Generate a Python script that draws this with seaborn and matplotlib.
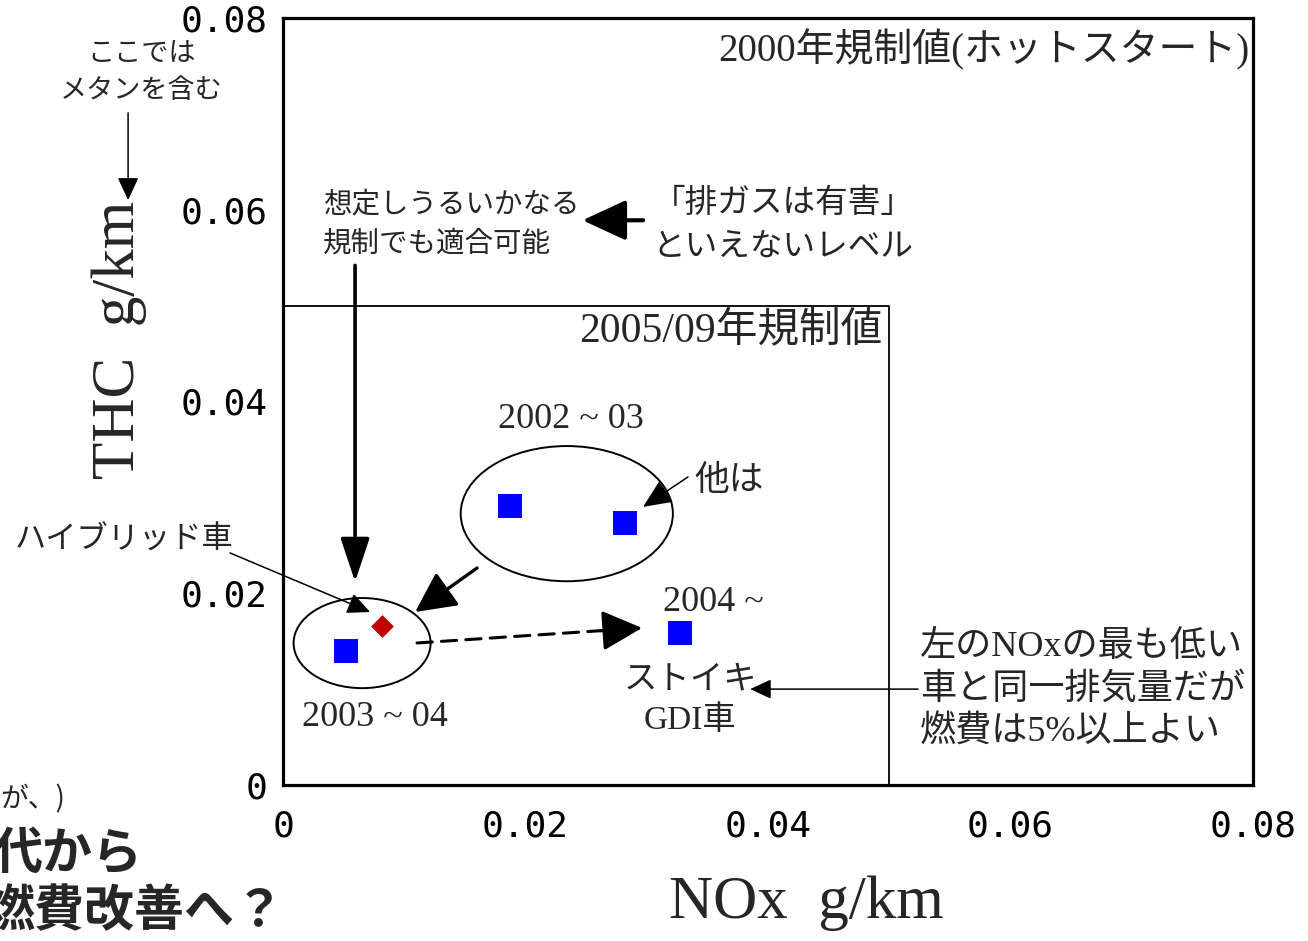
import matplotlib
matplotlib.use("Agg")
import matplotlib.pyplot as plt
from matplotlib.patches import Ellipse
import pandas as pd
import seaborn as sns

# ---------------- data ----------------
nox_gasoline = [0.0052, 0.0187, 0.0282, 0.0327]
thc_gasoline = [0.0140, 0.0291, 0.0273, 0.0159]
nox_hybrid = [0.0082]
thc_hybrid = [0.0166]

tick_values = [0, 0.02, 0.04, 0.06, 0.08]
tick_labels = ["0", "0.02", "0.04", "0.06", "0.08"]
minor_ticks = [0.01, 0.03, 0.05, 0.07]

reg2000_limit = 0.08   # 2000 regulation (hot start) = whole frame
reg2005_limit = 0.05   # 2005/09 regulation box

# ---------------- style ----------------
sns.set_theme(style="white")
CJK = ["Noto Sans CJK JP", "DejaVu Sans"]
MIXED = ["Liberation Serif", "Noto Sans CJK JP"]
plt.rcParams["font.family"] = CJK

fig = plt.figure(figsize=(13.08, 9.41), dpi=100)
ax = fig.add_axes([0.2164, 0.1658, 0.7416, 0.8151])

df_gas = pd.DataFrame({"NOx": nox_gasoline, "THC": thc_gasoline})
df_hyb = pd.DataFrame({"NOx": nox_hybrid, "THC": thc_hybrid})
sns.scatterplot(data=df_gas, x="NOx", y="THC", marker="s", s=300,
                color="#0000FF", linewidth=0, ax=ax, zorder=5)
sns.scatterplot(data=df_hyb, x="NOx", y="THC", marker="D", s=135,
                color="#C00000", linewidth=0, ax=ax, zorder=5)

ax.set_xlim(0, reg2000_limit)
ax.set_ylim(0, reg2000_limit)
ax.set_xticks(tick_values)
ax.set_xticklabels(tick_labels, family="DejaVu Sans Mono", fontsize=26)
ax.set_yticks(tick_values)
ax.set_yticklabels(tick_labels, family="DejaVu Sans Mono", fontsize=26)
ax.set_xticks(minor_ticks, minor=True)
ax.set_yticks(minor_ticks, minor=True)
ax.tick_params(which="major", direction="in", length=12, width=1,
               color="#444444", labelcolor="black")
ax.tick_params(which="minor", direction="in", length=8, width=1,
               color="#777777")
ax.tick_params(axis="x", pad=18)
ax.tick_params(axis="y", pad=11)
for sp in ax.spines.values():
    sp.set_linewidth(2.3)
    sp.set_color("black")

ax.set_xlabel("NOx  g/km", family="Liberation Serif", fontsize=44)
ax.xaxis.set_label_coords(0.539, -0.118)
ax.set_ylabel("THC  g/km", family="Liberation Serif", fontsize=44)
ax.yaxis.set_label_coords(-0.14, 0.58)

# 2005/09 regulation box
ax.plot([0, reg2005_limit, reg2005_limit], [reg2005_limit, reg2005_limit, 0],
        color="black", lw=1.3, zorder=2)

# ellipses grouping years
ax.add_patch(Ellipse((0.0234, 0.0283), 0.0175, 0.0141, fill=False,
                     ec="black", lw=1.4))
ax.add_patch(Ellipse((0.00652, 0.0148), 0.0113, 0.0094, fill=False,
                     ec="black", lw=1.4))


def arrow(tail, tip, lw, hl, hw, ls="-", style="-|>"):
    if style == "-|>":
        style = f"-|>,head_length={hl},head_width={hw}"
    ax.annotate("", xy=tip, xytext=tail, annotation_clip=False,
                arrowprops=dict(arrowstyle=style, lw=lw, color="black",
                                linestyle=ls, shrinkA=0, shrinkB=0,
                                mutation_scale=10))


arrow((0.00594, 0.0542), (0.00594, 0.0212), 2.6, 2.7, 0.9)
arrow((0.0297, 0.0589), (0.0247, 0.0589), 3.0, 2.7, 1.25)
arrow((0.0160, 0.02263), (0.01089, 0.01804), 2.4, 2.5, 1.25)
arrow((-0.00437, 0.0242), (0.00718, 0.01804), 1.1, 1.4, 0.65)
arrow((0.0334, 0.03213), (0.02969, 0.0290), 1.1, 1.8, 0.8)
# dashed shaft + solid head
arrow((0.01105, 0.01481), (0.0270, 0.01616), 2.2, 0, 0, ls=(0, (5, 3)), style="-")
arrow((0.0262, 0.01609), (0.02961, 0.01638), 2.2, 2.5, 1.25)
arrow((0.05237, 0.0100), (0.03852, 0.0100), 1.1, 1.3, 0.6)
arrow((-0.01278, 0.0701), (-0.01278, 0.0610), 1.1, 1.4, 0.65)

# ---------------- texts ----------------
ax.text(0.0797, 0.0767, "2000年規制値(ホットスタート)", family=MIXED,
        fontsize=28, ha="right", va="center")
ax.text(0.0494, 0.0474, "2005/09年規制値", family=MIXED,
        fontsize=30, ha="right", va="center")
ax.text(0.0033, 0.0585, "想定しうるいかなる\n規制でも適合可能", fontsize=20.5,
        ha="left", va="center", linespacing=1.4)
ax.text(0.0305, 0.0584, "「排ガスは有害」\nといえないレベル", fontsize=23.5,
        ha="left", va="center", linespacing=1.45)
ax.text(0.02375, 0.0381, "2002 ~ 03", family=MIXED, fontsize=26,
        ha="center", va="center")
ax.text(0.0339, 0.0318, "他は", fontsize=25, ha="left", va="center")
ax.text(-0.0221, 0.02555, "ハイブリッド車", fontsize=22.5, ha="left",
        va="center", clip_on=False)
ax.text(0.0076, 0.0070, "2003 ~ 04", family=MIXED, fontsize=26,
        ha="center", va="center")
ax.text(0.0313, 0.0190, "2004 ~", family=MIXED, fontsize=26,
        ha="left", va="center")
ax.text(0.0336, 0.0088, "ストイキ\nGDI車", family=MIXED, fontsize=24,
        ha="center", va="center", multialignment="center", linespacing=1.4)
ax.text(0.0525, 0.0099, "左のNOxの最も低い\n車と同一排気量だが\n燃費は5%以上よい",
        family=MIXED, fontsize=26, ha="left", va="center", linespacing=1.35)
ax.text(-0.01171, 0.0744, "ここでは\nメタンを含む", fontsize=19.5,
        ha="center", va="center", linespacing=1.5, clip_on=False)

# fragments of slide text cut at the left edge
fig.text(0.0, 0.150, "が、)", fontsize=20, ha="left", va="center")
fig.text(-0.006, 0.0914, "代から", fontsize=36, fontweight="bold",
         ha="left", va="center")
fig.text(-0.0115, 0.0308, "燃費改善へ？", fontsize=36, fontweight="bold",
         ha="left", va="center")

fig.savefig("out.png", dpi=100)
